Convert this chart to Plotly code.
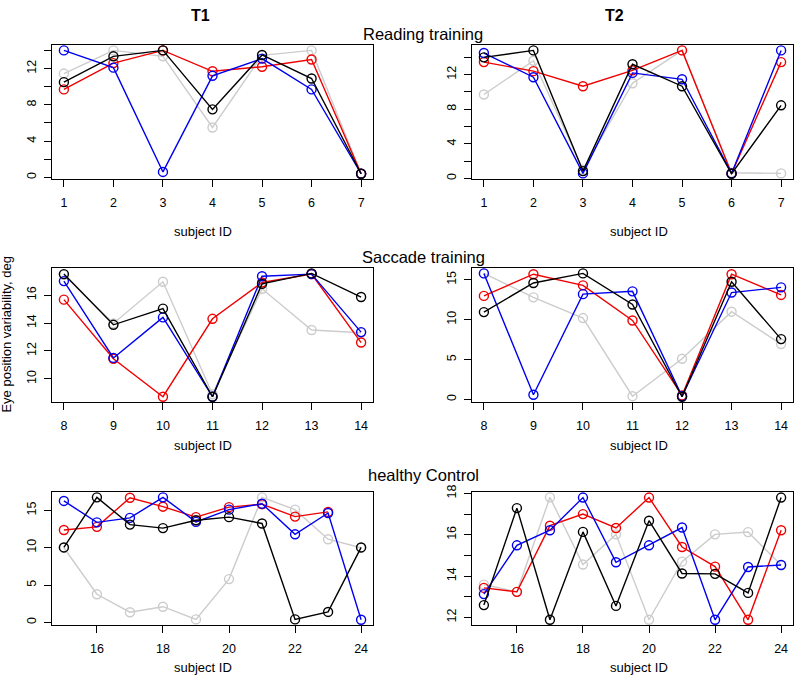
import plotly.graph_objects as go

# ---------------- data ----------------
reading_ids = [1, 2, 3, 4, 5, 6, 7]
saccade_ids = [8, 9, 10, 11, 12, 13, 14]
control_ids = [15, 16, 17, 18, 19, 20, 21, 22, 23, 24]

reading_T1_gray = [11.45, 14.0, 13.35, 5.5, 13.45, 14.0, 0.4]
reading_T1_red = [9.7, 12.6, 14.0, 11.7, 12.2, 13.0, 0.4]
reading_T1_blue = [14.0, 12.1, 0.6, 11.2, 13.1, 9.7, 0.4]
reading_T1_black = [10.5, 13.35, 14.0, 7.5, 13.5, 10.9, 0.4]

reading_T2_gray = [9.7, 13.6, 1.0, 11.0, 14.8, 0.65, 0.57]
reading_T2_red = [13.45, 12.4, 10.66, 12.5, 14.8, 0.57, 13.45]
reading_T2_blue = [14.5, 11.7, 0.57, 12.2, 11.46, 0.57, 14.8]
reading_T2_black = [14.0, 14.8, 0.84, 13.2, 10.66, 0.53, 8.45]

saccade_T1_gray = [17.45, 13.97, 16.95, 8.9, 16.45, 13.5, 13.3]
saccade_T1_red = [15.67, 11.44, 8.72, 14.3, 16.9, 17.5, 12.6]
saccade_T1_blue = [17.0, 11.5, 14.4, 8.72, 17.35, 17.5, 13.35]
saccade_T1_black = [17.5, 13.87, 15.03, 8.72, 16.8, 17.55, 15.86]

saccade_T2_gray = [15.8, 12.8, 10.2, 0.4, 5.1, 11.0, 6.94]
saccade_T2_red = [12.98, 15.7, 14.3, 9.9, 0.5, 15.7, 13.1]
saccade_T2_blue = [15.8, 0.58, 13.2, 13.55, 0.4, 13.4, 14.05]
saccade_T2_black = [10.95, 14.6, 15.8, 11.9, 0.33, 14.75, 7.56]

control_T1_gray = [10.0, 3.77, 1.36, 2.1, 0.4, 5.8, 16.75, 15.1, 11.14, 10.0]
control_T1_red = [12.37, 12.8, 16.7, 15.5, 14.1, 15.44, 15.83, 14.17, 14.8, None]
control_T1_blue = [16.27, 13.4, 14.0, 16.75, 13.46, 15.1, 15.9, 11.8, 14.65, 0.35]
control_T1_black = [10.04, 16.75, 13.1, 12.63, 13.68, 14.1, 13.25, 0.4, 1.4, 10.04]

control_T2_gray = [13.59, 13.24, 17.81, 14.56, 16.02, 11.89, 14.7, 16.02, 16.13, 14.54]
control_T2_red = [13.43, 13.24, 16.44, 17.0, 16.33, 17.8, 15.41, 14.46, 11.89, 16.22]
control_T2_blue = [13.13, 15.49, 16.22, 17.8, 14.67, 15.49, 16.35, 11.89, 14.44, 14.54]
control_T2_black = [12.6, 17.29, 11.89, 16.14, 12.56, 16.68, 14.13, 14.11, 13.19, 17.8]

reading_yticks = [0, 2, 4, 6, 8, 10, 12, 14]
reading_ylabels = ["0", "", "4", "", "8", "", "12", ""]
saccade_T1_yticks = [10, 12, 14, 16]
saccade_T2_yticks = [0, 5, 10, 15]
control_T1_yticks = [0, 5, 10, 15]
control_T2_yticks = [12, 13, 14, 15, 16, 17, 18]
control_T2_ylabels = ["12", "", "14", "", "16", "", "18"]
control_xticks = [16, 18, 20, 22, 24]

col_titles = ["T1", "T2"]
row_titles = ["Reading training", "Saccade training", "healthy Control"]
x_title = "subject ID"
y_title = "Eye position variability, deg"

# ---------------- styling ----------------
W, H = 794, 675
GRAY, RED, BLUE, BLACK = "#CCCCCC", "#F00000", "#0000F0", "#000000"
FONT = "Liberation Sans, Arial, sans-serif"

panels = [
    (reading_ids, [reading_T1_gray, reading_T1_red, reading_T1_blue, reading_T1_black],
     reading_yticks, reading_ylabels, reading_ids, (52, 373, 38, 173)),
    (reading_ids, [reading_T2_gray, reading_T2_red, reading_T2_blue, reading_T2_black],
     reading_yticks, reading_ylabels, reading_ids, (472, 793, 38, 173)),
    (saccade_ids, [saccade_T1_gray, saccade_T1_red, saccade_T1_blue, saccade_T1_black],
     saccade_T1_yticks, [str(v) for v in saccade_T1_yticks], saccade_ids, (52, 373, 264, 399)),
    (saccade_ids, [saccade_T2_gray, saccade_T2_red, saccade_T2_blue, saccade_T2_black],
     saccade_T2_yticks, [str(v) for v in saccade_T2_yticks], saccade_ids, (472, 793, 264, 399)),
    (control_ids, [control_T1_gray, control_T1_red, control_T1_blue, control_T1_black],
     control_T1_yticks, [str(v) for v in control_T1_yticks], control_xticks, (52, 373, 491, 625)),
    (control_ids, [control_T2_gray, control_T2_red, control_T2_blue, control_T2_black],
     control_T2_yticks, control_T2_ylabels, control_xticks, (472, 793, 491, 625)),
]
colors = [GRAY, RED, BLUE, BLACK]


def r_range(vals):
    v = [x for x in vals if x is not None]
    lo, hi = min(v), max(v)
    pad = (hi - lo) * 0.04
    return [lo - pad, hi + pad]


fig = go.Figure()
layout = {}
for i, (ids, series, yt, yl, xt, box) in enumerate(panels, start=1):
    xa = "x" if i == 1 else f"x{i}"
    ya = "y" if i == 1 else f"y{i}"
    for s, c in zip(series, colors):
        fig.add_trace(go.Scatter(
            x=ids, y=s, mode="lines+markers", xaxis=xa, yaxis=ya,
            line=dict(color=c, width=1.4),
            marker=dict(symbol="circle-open", size=9, color=c, line=dict(width=1.4, color=c)),
            connectgaps=False, cliponaxis=False, showlegend=False, hoverinfo="skip"))
    allv = [v for s in series for v in s]
    x0, x1, yt0, yb0 = box
    common = dict(showline=True, linecolor="black", linewidth=1, mirror=True,
                  ticks="outside", ticklen=7, tickwidth=1, tickcolor="black",
                  showgrid=False, zeroline=False,
                  tickfont=dict(family=FONT, size=12.5, color="black"))
    layout["xaxis" if i == 1 else f"xaxis{i}"] = dict(
        domain=[x0 / W, x1 / W], anchor=ya, range=r_range(ids),
        tickvals=xt, ticktext=[str(v) for v in xt], ticklabelstandoff=5, **common)
    layout["yaxis" if i == 1 else f"yaxis{i}"] = dict(
        domain=[1 - yb0 / H, 1 - yt0 / H], anchor=xa, range=r_range(allv),
        tickvals=yt, ticktext=yl, tickangle=-90, ticklabelstandoff=3, **common)

annotations = []


def ann(text, px, py, size, bold=False, angle=0):
    annotations.append(dict(
        text=f"<b>{text}</b>" if bold else text, x=px / W, y=1 - py / H,
        xref="paper", yref="paper", xanchor="center", yanchor="middle",
        showarrow=False, textangle=angle,
        font=dict(family=FONT, size=size, color="black")))


ann(col_titles[0], 200, 8, 16, bold=True)
ann(col_titles[1], 614, 8, 16, bold=True)
for t, py in zip(row_titles, [26, 252, 473]):
    ann(t, 423, py, 16.5)
for py in [227, 443, 668]:
    ann(x_title, 203, py, 13)
    ann(x_title, 639, py, 13)
ann(y_title, 7, 331, 13, angle=-90)

fig.update_layout(
    width=W, height=H, margin=dict(l=0, r=0, t=0, b=0),
    plot_bgcolor="white", paper_bgcolor="white",
    annotations=annotations, **layout)

fig.write_html(
    "out.html",
    config={"displayModeBar": False, "responsive": False},
    post_script=("document.documentElement.style.margin='0';"
                 "document.body.style.margin='0';document.body.style.padding='0';"
                 "document.body.style.overflow='hidden';"
                 "var gd=document.querySelector('.plotly-graph-div');"
                 "gd.style.position='fixed';gd.style.top='0px';gd.style.left='0px';"),
)
